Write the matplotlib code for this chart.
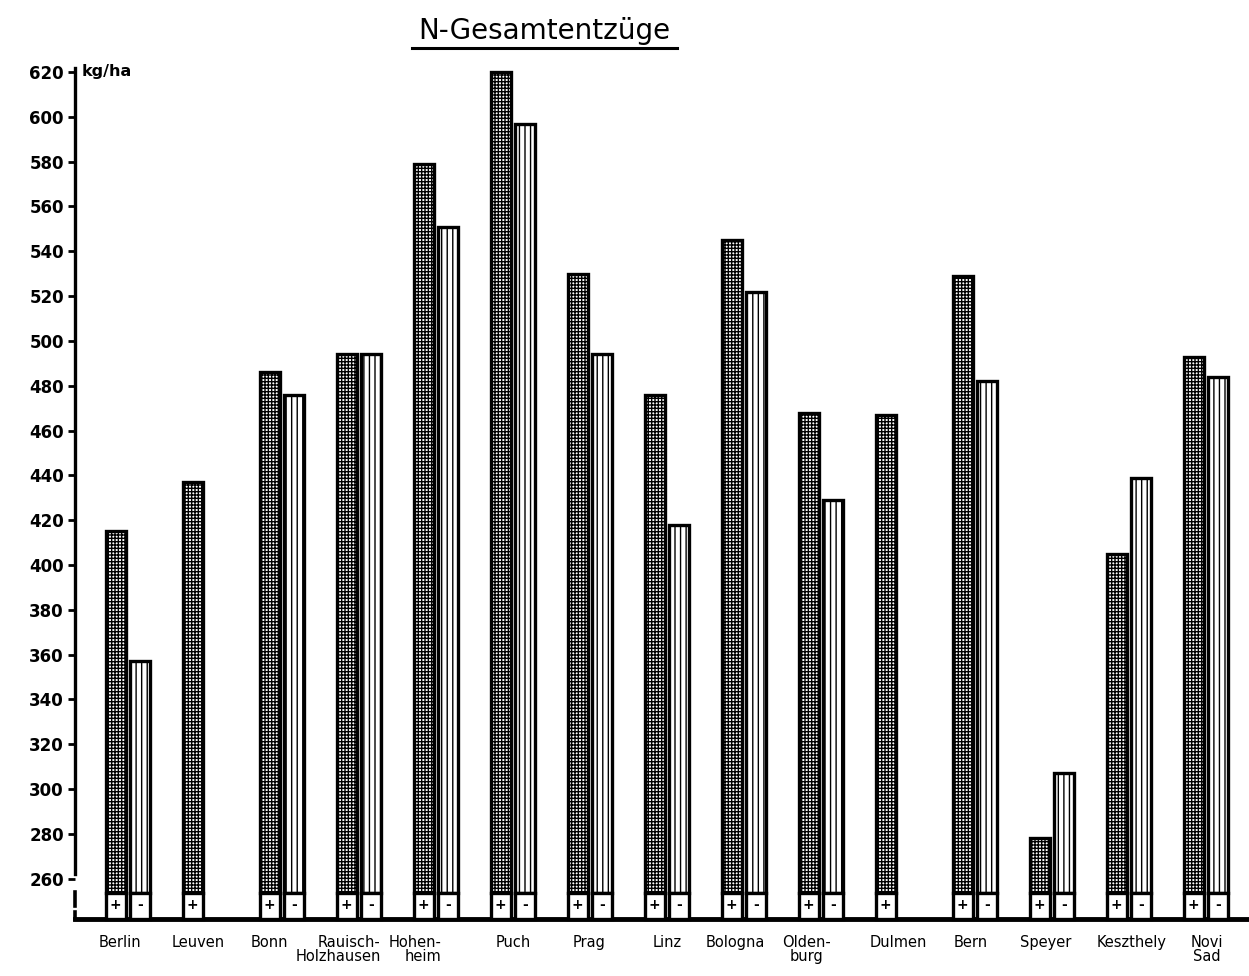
import numpy as np
import matplotlib.pyplot as plt
from matplotlib.lines import Line2D
from matplotlib.transforms import blended_transform_factory

# N-Gesamtentzüge (kg/ha), "+" and "-" variant per site
sites = ["Berlin", "Leuven", "Bonn", "Rauisch-\nHolzhausen", "Hohen-\nheim", "Puch",
         "Prag", "Linz", "Bologna", "Olden-\nburg", "Dulmen", "Bern", "Speyer",
         "Keszthely", "Novi\nSad"]
n_plus = [415, 437, 486, 494, 579, 620, 530, 476, 545, 468, 467, 529, 278, 405, 493]
n_minus = [357, None, 476, 494, 551, 597, 494, 418, 522, 429, None, 482, 307, 439, 484]
yticks = list(range(260, 621, 20))

# layout
y0 = 242.0        # value at the x-axis (axis is broken)
box_top = 253.5   # top of the white "+/-" box at the foot of each bar
off = 0.158
w = 0.26
label_dx = [-8, -7, -13, -21, -21, 0, -1, 0, -9, -14, 0, -4, -6, 3, 1]
label_align = ['center', 'center', 'center', 'right', 'right', 'center', 'center',
               'center', 'center', 'center', 'center', 'center', 'center', 'center',
               'center']

plt.rcParams['font.family'] = 'DejaVu Sans'
plt.rcParams['hatch.linewidth'] = 1.0

fig = plt.figure(figsize=(12.49, 9.76), dpi=100)
ax = fig.add_axes([75 / 1249, 1 - 919 / 976, 1 - 75 / 1249, (919 - 67.5) / 976])

x = np.arange(len(sites))

for vals, dx, hatch, sign in ((n_plus, -off, '+++++', '+'), (n_minus, off, '|||', '-')):
    idx = [i for i, v in enumerate(vals) if v is not None]
    xs = x[idx] + dx
    hs = np.array([vals[i] for i in idx], dtype=float)
    ax.bar(xs, hs - box_top, bottom=box_top, width=w, color='white',
           edgecolor='black', hatch=hatch, linewidth=2.4, clip_on=False, zorder=3)
    ax.bar(xs, box_top - y0, bottom=y0, width=w, color='white',
           edgecolor='black', linewidth=2.4, clip_on=False, zorder=3)
    for xi in xs:
        ax.text(xi, (y0 + box_top) / 2 + 0.3, sign, ha='center', va='center',
                fontsize=10, fontweight='bold', zorder=4)

ax.set_xlim(-0.688, 14.56)
ax.set_ylim(y0, 622)
ax.set_yticks(yticks)
ax.set_xticks([])
ax.tick_params(axis='y', direction='out', length=5, width=2, labelsize=12, pad=3)
for t in ax.get_yticklabels():
    t.set_fontweight('bold')

for s in ('top', 'right'):
    ax.spines[s].set_visible(False)
ax.spines['left'].set_linewidth(2.4)
ax.spines['left'].set_bounds(262, 622)
ax.spines['bottom'].set_linewidth(3.5)

# broken y-axis marks
tr = blended_transform_factory(ax.transAxes, ax.transData)
ax.plot([0, 0], [248, 254], color='black', lw=2.6, transform=tr, clip_on=False)
ax.plot([0, 0], [y0, 245], color='black', lw=2.6, transform=tr, clip_on=False)

# site labels
for i, name in enumerate(sites):
    ax.annotate(name, xy=(x[i], 0), xycoords=('data', 'axes fraction'),
                xytext=(label_dx[i], -16), textcoords='offset pixels',
                ha='center', va='top', fontsize=10.5, multialignment=label_align[i],
                linespacing=0.95)

ax.text(82 / 1249, 1 - 64 / 976, 'kg/ha', transform=fig.transFigure,
        ha='left', va='top', fontsize=11.5, fontweight='bold')

fig.text(544.5 / 1249, 1 - 39 / 976, 'N-Gesamtentzüge', ha='center',
         va='baseline', fontsize=20)
fig.add_artist(Line2D([412 / 1249, 677 / 1249], [1 - 48 / 976, 1 - 48 / 976],
                      transform=fig.transFigure, color='black', lw=2.2))

fig.savefig('out.png', dpi=100)
